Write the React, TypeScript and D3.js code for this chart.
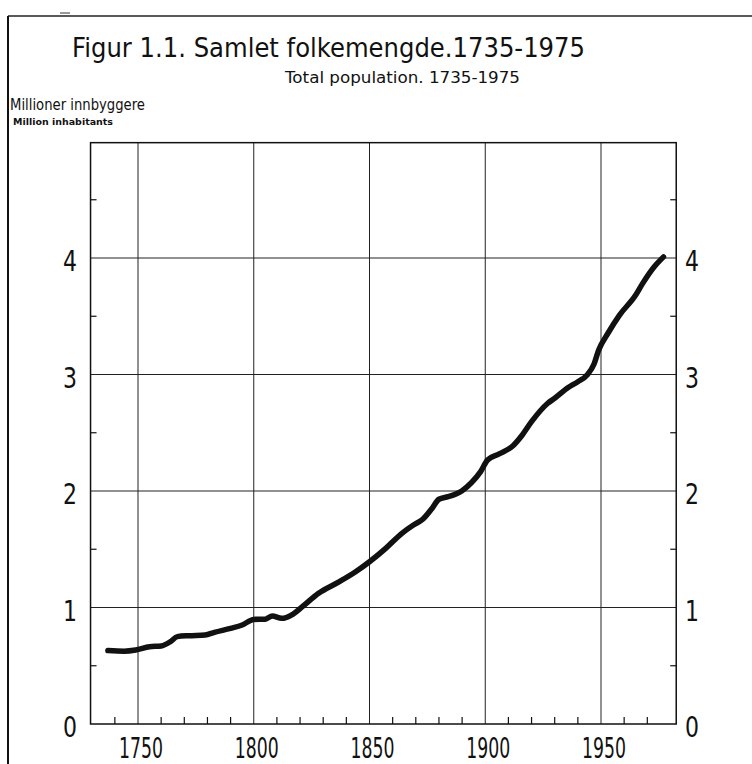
import React from "react";
import * as d3 from "d3";

// population curve (years, millions)
const years = [1737, 1744, 1749, 1755, 1760, 1764, 1767, 1772, 1779, 1783, 1790, 1795, 1800, 1805, 1808, 1812, 1817, 1821, 1828, 1837, 1844, 1850, 1857, 1864, 1869, 1873, 1877, 1880, 1884, 1890, 1894, 1898, 1901, 1906, 1912, 1916, 1920, 1927, 1930, 1936, 1940, 1944, 1947, 1949, 1953, 1958, 1965, 1968, 1973, 1977];
const millions = [0.63, 0.625, 0.635, 0.663, 0.67, 0.707, 0.75, 0.758, 0.764, 0.787, 0.821, 0.85, 0.898, 0.9, 0.927, 0.907, 0.944, 1.007, 1.122, 1.222, 1.307, 1.393, 1.508, 1.637, 1.708, 1.757, 1.85, 1.929, 1.951, 2.003, 2.071, 2.166, 2.266, 2.318, 2.389, 2.481, 2.595, 2.753, 2.796, 2.89, 2.938, 2.996, 3.09, 3.21, 3.354, 3.51, 3.682, 3.782, 3.925, 4.01];

const yearTicks = [1750, 1800, 1850, 1900, 1950];
const decadeTicks = [1740, 1760, 1770, 1780, 1790, 1810, 1820, 1830, 1840, 1860, 1870, 1880, 1890, 1910, 1920, 1930, 1940, 1960, 1970];
const valueTicks = [0, 1, 2, 3, 4];
const halfTicks = [0.5, 1.5, 2.5, 3.5, 4.5];

const FONT = "'DejaVu Sans', sans-serif";

export default function App() {
  const x = d3.scaleLinear().domain([1750, 1950]).range([138, 601]);
  const y = d3.scaleLinear().domain([0, 4]).range([724, 258]);

  const left = x(1729.5);
  const right = x(1982.5);
  const top = y(4.99);
  const bottom = y(0);

  const data = years.map((yr, i) => ({ yr, v: millions[i] }));
  const line = d3
    .line<{ yr: number; v: number }>()
    .x((d) => x(d.yr))
    .y((d) => y(d.v))
    .curve(d3.curveMonotoneX);

  return (
    <svg
      width={752}
      height={764}
      style={{ position: "absolute", left: 0, top: 0, background: "#fff" }}
      fontFamily={FONT}
    >
      <rect width={752} height={764} fill="#fff" />
      {/* scanned page border */}
      <line x1={8} x2={752} y1={16} y2={16} stroke="#222" strokeWidth={1.5} />
      <line x1={8} x2={8} y1={16} y2={764} stroke="#111" strokeWidth={2} />
      <line x1={60} x2={70} y1={13} y2={13} stroke="#333" strokeWidth={1} />

      {/* titles */}
      <text x={72} y={57} fontSize={26} textLength={513} lengthAdjust="spacingAndGlyphs" fill="#111">
        Figur 1.1. Samlet folkemengde.1735-1975
      </text>
      <text x={285} y={83} fontSize={16} textLength={235} lengthAdjust="spacingAndGlyphs" fill="#111">
        Total population. 1735-1975
      </text>
      <text x={10} y={110} fontSize={15} textLength={135} lengthAdjust="spacingAndGlyphs" fill="#111">
        Millioner innbyggere
      </text>
      <text x={13} y={125} fontSize={9.5} fontWeight="bold" textLength={100} lengthAdjust="spacingAndGlyphs" fill="#111">
        Million inhabitants
      </text>

      {/* grid */}
      {yearTicks.map((t) => (
        <line key={"gx" + t} x1={x(t)} x2={x(t)} y1={top} y2={bottom} stroke="#222" strokeWidth={1} />
      ))}
      {valueTicks.slice(1).map((t) => (
        <line key={"gy" + t} x1={left} x2={right} y1={y(t)} y2={y(t)} stroke="#222" strokeWidth={1} />
      ))}

      {/* frame */}
      <rect x={left} y={top} width={right - left} height={bottom - top} fill="none" stroke="#111" strokeWidth={1.5} />

      {/* minor ticks */}
      {decadeTicks.map((t) => (
        <line key={"dx" + t} x1={x(t)} x2={x(t)} y1={bottom} y2={bottom - 7} stroke="#111" strokeWidth={1.2} />
      ))}
      {halfTicks.map((t) => (
        <g key={"hy" + t}>
          <line x1={left} x2={left + 6} y1={y(t)} y2={y(t)} stroke="#111" strokeWidth={1.2} />
          <line x1={right} x2={right - 6} y1={y(t)} y2={y(t)} stroke="#111" strokeWidth={1.2} />
        </g>
      ))}

      {/* tick labels */}
      {valueTicks.map((t) => (
        <g key={"ly" + t} fontSize={29} fill="#111">
          <text x={70} y={y(t) + 13} textAnchor="middle" textLength={14} lengthAdjust="spacingAndGlyphs">
            {t}
          </text>
          <text x={692} y={y(t) + 13} textAnchor="middle" textLength={14} lengthAdjust="spacingAndGlyphs">
            {t}
          </text>
        </g>
      ))}
      {yearTicks.map((t) => (
        <text
          key={"lx" + t}
          x={x(t) + 3}
          y={758}
          fontSize={29}
          fill="#111"
          textAnchor="middle"
          textLength={44}
          lengthAdjust="spacingAndGlyphs"
        >
          {t}
        </text>
      ))}

      {/* population line */}
      <path d={line(data) ?? ""} fill="none" stroke="#111" strokeWidth={5.5} strokeLinecap="round" strokeLinejoin="round" />
    </svg>
  );
}
